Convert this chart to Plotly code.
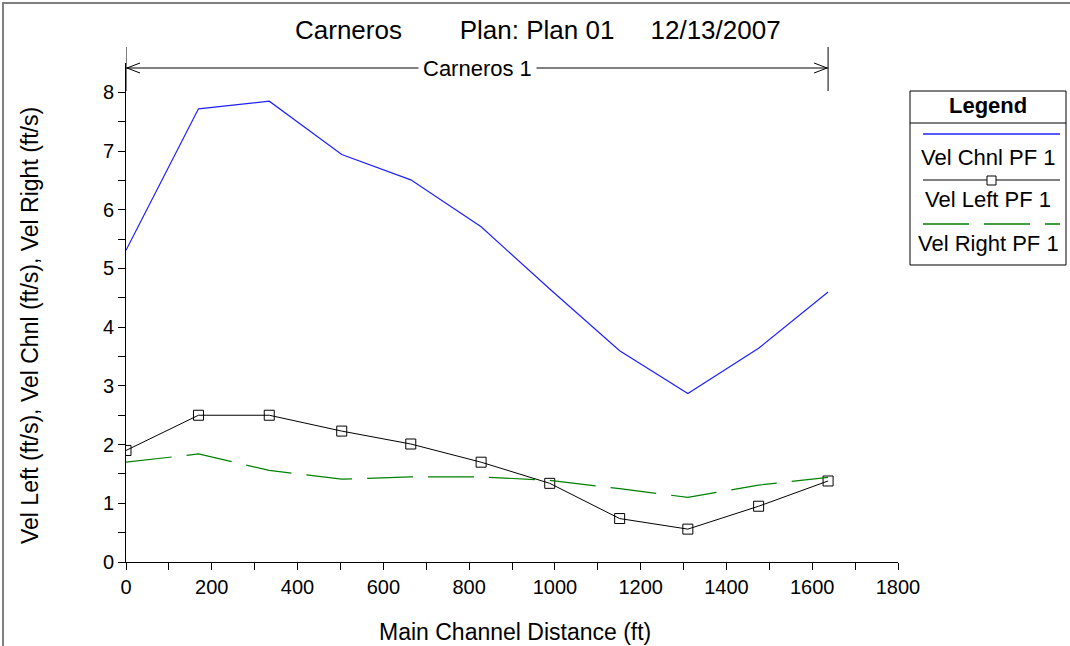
import plotly.graph_objects as go

# ---------------- data ----------------
station = [0, 169, 334, 503, 664, 828, 988, 1151, 1310, 1475, 1637]
vel_chnl = [5.31, 7.72, 7.85, 6.94, 6.51, 5.71, 4.65, 3.60, 2.87, 3.64, 4.60]
vel_left = [1.90, 2.50, 2.50, 2.23, 2.01, 1.70, 1.34, 0.74, 0.56, 0.95, 1.38]
vel_right = [1.70, 1.84, 1.56, 1.41, 1.45, 1.45, 1.39, 1.25, 1.10, 1.31, 1.44]

series_names = ["Vel Chnl PF 1", "Vel Left PF 1", "Vel Right PF 1"]
reach_name = "Carneros 1"
title_text = ("Carneros" + "&nbsp;" * 8 + "Plan: Plan 01" + "&nbsp;" * 5 + "12/13/2007")
x_title = "Main Channel Distance (ft)"
y_title = "Vel Left (ft/s), Vel Chnl (ft/s), Vel Right (ft/s)"

# ---------------- layout geometry (pixels) ----------------
W, H = 1070, 646
L, R, T, B = 126, 172, 63, 84
PW, PH = W - L - R, H - T - B
FONT = "Liberation Sans, Arial, sans-serif"


def px(x):
    return (x - L) / PW


def py(y):
    return (H - B - y) / PH


fig = go.Figure()
fig.add_trace(go.Scatter(x=station, y=vel_chnl, mode="lines", name=series_names[0],
                         line=dict(color="#2020ff", width=1.2)))
fig.add_trace(go.Scatter(x=station, y=vel_left, mode="lines+markers", name=series_names[1],
                         line=dict(color="black", width=1),
                         marker=dict(symbol="square-open", size=10, color="black",
                                     line=dict(width=1))))
fig.add_trace(go.Scatter(x=station, y=vel_right, mode="lines", name=series_names[2],
                         line=dict(color="#008000", width=1.2, dash="46px,15px")))

shapes = []
annotations = []

# outer gray frame
shapes.append(dict(type="rect", xref="paper", yref="paper",
                   x0=px(3), x1=px(1080), y0=py(3), y1=py(660),
                   line=dict(color="#808080", width=2)))

# reach annotation
reach_start, reach_end = station[0], station[-1]
y_line = py(68)
shapes.append(dict(type="line", xref="x", yref="paper", x0=reach_start, x1=reach_end,
                   y0=y_line, y1=y_line, line=dict(color="black", width=1)))
for xv in (reach_start, reach_end):
    shapes.append(dict(type="line", xref="x", yref="paper", x0=xv, x1=xv,
                       y0=py(47), y1=py(91), line=dict(color="black", width=1)))
shapes.append(dict(type="path", xref="x", yref="paper", xsizemode="pixel", ysizemode="pixel",
                   xanchor=reach_start, yanchor=y_line,
                   path="M 14 5 L 1 0 L 14 -5", line=dict(color="black", width=1)))
shapes.append(dict(type="path", xref="x", yref="paper", xsizemode="pixel", ysizemode="pixel",
                   xanchor=reach_end, yanchor=y_line,
                   path="M -14 5 L -1 0 L -14 -5", line=dict(color="black", width=1)))
annotations.append(dict(xref="x", yref="paper", x=(reach_start + reach_end) / 2, y=y_line,
                        text=reach_name, showarrow=False, bgcolor="white", borderpad=4,
                        font=dict(family=FONT, size=22, color="black"),
                        xanchor="center", yanchor="middle"))

# title
annotations.append(dict(xref="paper", yref="paper", x=px(538), y=py(30), text=title_text,
                        showarrow=False, font=dict(family=FONT, size=26, color="black"),
                        xanchor="center", yanchor="middle"))

# axis titles
annotations.append(dict(xref="paper", yref="paper", x=px(515), y=py(632), text=x_title,
                        showarrow=False, font=dict(family=FONT, size=23, color="black"),
                        xanchor="center", yanchor="middle"))
annotations.append(dict(xref="paper", yref="paper", x=px(30), y=py(326), text=y_title,
                        textangle=-90, showarrow=False,
                        font=dict(family=FONT, size=23, color="black"),
                        xanchor="center", yanchor="middle"))

# custom legend box
lx0, lx1, ly0, ly1 = 910, 1066, 91, 265
shapes.append(dict(type="rect", xref="paper", yref="paper", x0=px(lx0), x1=px(lx1),
                   y0=py(ly0), y1=py(ly1), line=dict(color="black", width=1),
                   fillcolor="white"))
shapes.append(dict(type="line", xref="paper", yref="paper", x0=px(lx0), x1=px(lx1),
                   y0=py(123), y1=py(123), line=dict(color="black", width=1)))
annotations.append(dict(xref="paper", yref="paper", x=px((lx0 + lx1) / 2), y=py(106),
                        text="<b>Legend</b>", showarrow=False,
                        font=dict(family=FONT, size=22, color="black"),
                        xanchor="center", yanchor="middle"))
sample_y = [134, 180, 224]
text_y = [157, 199, 243]
sample_style = [dict(color="#2020ff", width=1.5),
                dict(color="black", width=1),
                dict(color="#008000", width=1.5, dash="46px,15px")]
for i in range(3):
    shapes.append(dict(type="line", xref="paper", yref="paper", x0=px(923), x1=px(1060),
                       y0=py(sample_y[i]), y1=py(sample_y[i]), line=sample_style[i]))
    annotations.append(dict(xref="paper", yref="paper", x=px((lx0 + lx1) / 2), y=py(text_y[i]),
                            text=series_names[i], showarrow=False,
                            font=dict(family=FONT, size=22, color="black"),
                            xanchor="center", yanchor="middle"))
shapes.append(dict(type="rect", xref="paper", yref="paper", x0=px(987), x1=px(996),
                   y0=py(176), y1=py(185), line=dict(color="black", width=1),
                   fillcolor="white"))

fig.update_layout(
    width=W, height=H,
    margin=dict(l=L, r=R, t=T, b=B, pad=0),
    paper_bgcolor="white", plot_bgcolor="white",
    showlegend=False,
    shapes=shapes, annotations=annotations,
    font=dict(family=FONT, size=20, color="black"),
    xaxis=dict(range=[0, 1800], tickmode="linear", tick0=0, dtick=200,
               ticks="outside", ticklen=7, tickwidth=1, tickcolor="black",
               showline=True, linecolor="black", linewidth=1, showgrid=False,
               zeroline=False, tickfont=dict(size=20),
               minor=dict(dtick=100, ticks="outside", ticklen=7, tickcolor="black", showgrid=False)),
    yaxis=dict(range=[0, 8.5], tickmode="array", tickvals=list(range(0, 9)),
               ticks="outside", ticklen=7, tickwidth=1, tickcolor="black",
               showline=True, linecolor="black", linewidth=1, showgrid=False,
               zeroline=False, tickfont=dict(size=20),
               minor=dict(tickmode="array", tickvals=[v + 0.5 for v in range(0, 8)],
                          ticks="outside", ticklen=7, tickcolor="black", showgrid=False)),
)

fig.write_html("out.html")
